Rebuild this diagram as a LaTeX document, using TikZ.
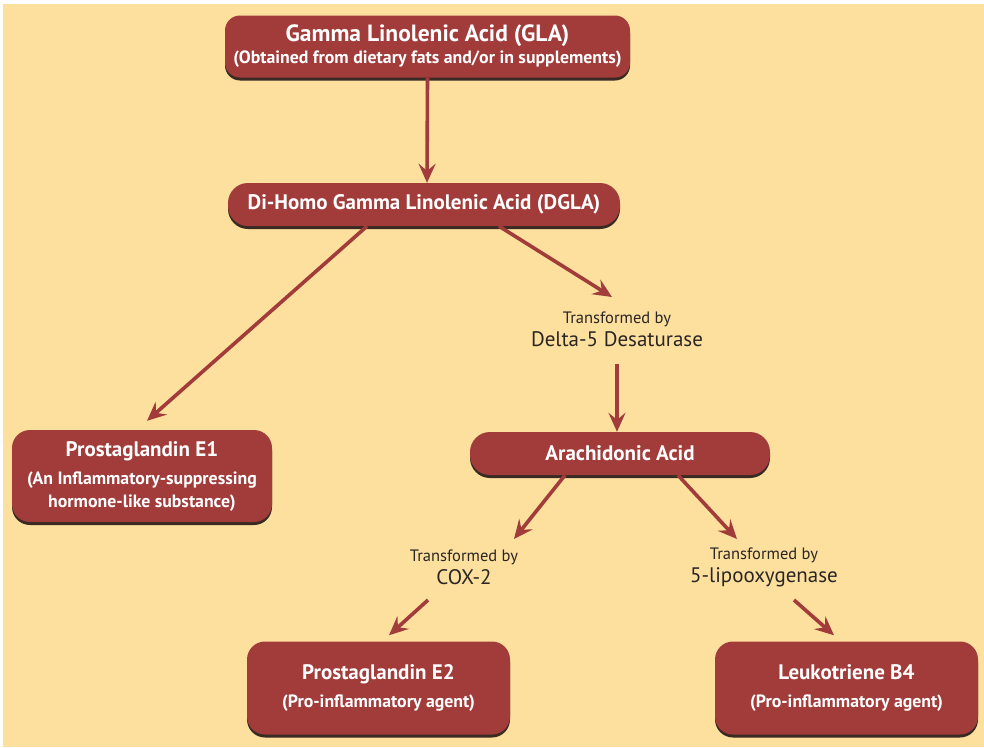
\documentclass[tikz,border=0pt]{standalone}
\usepackage{fontspec}
\setmainfont{PT Sans}
\usetikzlibrary{arrows.meta,shadows,calc}
\definecolor{bg}{HTML}{FDDF9E}
\definecolor{boxred}{HTML}{A13C3A}
\definecolor{shade}{HTML}{3A2A24}
\definecolor{labelc}{HTML}{2A2624}
\newcommand{\ttlsize}{\fontsize{21}{25}\selectfont}
\newcommand{\glasize}{\fontsize{23.5}{25}\selectfont}
\newcommand{\bigsize}{\fontsize{21}{23}\selectfont}
\begin{document}
\begin{tikzpicture}[x=1pt,y=-1pt,
  box/.style={fill=boxred, text=white, font=\fontsize{17.8}{25}\selectfont\bfseries, align=center, inner sep=0pt,
    drop shadow={shadow xshift=0pt, shadow yshift=-3pt, fill=shade, opacity=1}},
  lbl/.style={text=labelc, align=center, inner sep=0pt, font=\fontsize{16.5}{23}\selectfont},
  arr/.style={draw=boxred, line width=3.6pt, -{Stealth[length=19pt,width=17pt,inset=7pt]}}]
\useasboundingbox (0,0) rectangle (984,747);
\fill[white] (0,0) rectangle (984,747);
\fill[bg] (3,4) rectangle (984,747);

\node[box, rounded corners=15pt, minimum width=405pt, minimum height=62pt] (gla) at (427.5,46.5)
  {\glasize Gamma Linolenic Acid (GLA)\\[-3pt](Obtained from dietary fats and/or in supplements)};
\node[box, rounded corners=20pt, minimum width=392pt, minimum height=43pt] (dgla) at (424,204.5)
  {\ttlsize Di-Homo Gamma Linolenic Acid (DGLA)};
\node[box, rounded corners=18pt, minimum width=260pt, minimum height=92pt] (pge1) at (142,476)
  {\ttlsize Prostaglandin E1\\[3pt](An Inflammatory-suppressing\\[-2pt]hormone-like substance)};
\node[box, rounded corners=20pt, minimum width=300pt, minimum height=43pt] (ara) at (620,453.5)
  {\ttlsize Arachidonic Acid};
\node[box, rounded corners=18pt, minimum width=263pt, minimum height=93pt] (pge2) at (378.5,688)
  {\ttlsize Prostaglandin E2\\[3pt](Pro-inflammatory agent)};
\node[box, rounded corners=18pt, minimum width=263pt, minimum height=93pt] (ltb4) at (846.5,688)
  {\ttlsize Leukotriene B4\\[3pt](Pro-inflammatory agent)};

\node[lbl] (d5) at (617,329)
  {Transformed by\\\bigsize Delta-5 Desaturase};
\node[lbl] (cox) at (464,567.5)
  {Transformed by\\\bigsize COX-2};
\node[lbl] (lox) at (764,567.5)
  {Transformed by\\\bigsize 5-lipooxygenase};

\draw[arr] (gla.south) -- ([xshift=3pt]dgla.north);
\draw[arr] ([xshift=-57pt]dgla.south) -- ([xshift=5pt,yshift=9pt]pge1.north);
\draw[arr] ([xshift=75pt]dgla.south) -- ($(d5.center)+(-5,-32)$);
\draw[arr] ($(d5.center)+(0,35)$) -- ([xshift=-3pt]ara.north);
\draw[arr] ([xshift=-55pt]ara.south) -- ($(cox.center)+(50,-28.5)$);
\draw[arr] ([xshift=58pt]ara.south) -- ($(lox.center)+(-27,-28.5)$);
\draw[arr] ($(cox.center)+(-36,32.5)$) -- ([xshift=10.5pt,yshift=6pt]pge2.north);
\draw[arr] ($(lox.center)+(30,32.5)$) -- ([xshift=-12.5pt,yshift=6pt]ltb4.north);
\end{tikzpicture}
\end{document}
